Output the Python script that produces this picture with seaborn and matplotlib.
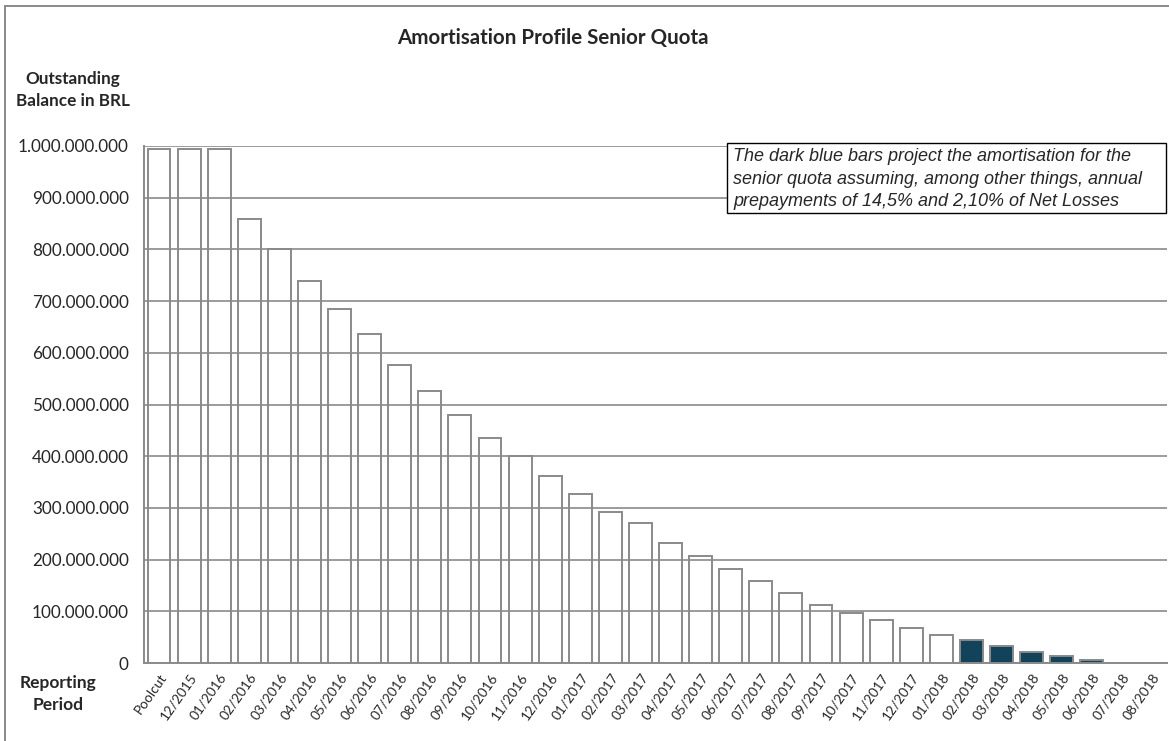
"""Amortisation profile of the senior quota, recreated with seaborn."""
import matplotlib
matplotlib.use("Agg")
import matplotlib.pyplot as plt
import pandas as pd
import seaborn as sns
from matplotlib.patches import Rectangle

PERIODS = [
    "Poolcut", "12/2015",
    "01/2016", "02/2016", "03/2016", "04/2016", "05/2016", "06/2016",
    "07/2016", "08/2016", "09/2016", "10/2016", "11/2016", "12/2016",
    "01/2017", "02/2017", "03/2017", "04/2017", "05/2017", "06/2017",
    "07/2017", "08/2017", "09/2017", "10/2017", "11/2017", "12/2017",
    "01/2018", "02/2018", "03/2018", "04/2018", "05/2018", "06/2018",
    "07/2018", "08/2018",
]

# outstanding balance in BRL
BALANCE = [
    994_000_000, 994_000_000,
    994_000_000, 858_000_000, 801_000_000, 739_000_000, 685_000_000, 636_000_000,
    577_000_000, 527_000_000, 480_000_000, 436_000_000, 401_000_000, 362_000_000,
    326_000_000, 293_000_000, 271_000_000, 232_000_000, 207_000_000, 181_000_000,
    158_000_000, 135_000_000, 113_000_000, 97_000_000, 84_000_000, 68_000_000,
    55_000_000, 44_000_000, 32_000_000, 22_000_000, 13_000_000, 5_000_000,
    0, 0,
]

# periods from 02/2018 onwards are projections (dark blue bars)
STATUS = ["actual"] * 27 + ["projected"] * 7

Y_TICKS = list(range(0, 1_000_000_001, 100_000_000))

GREY = "#8a8a8a"
DARK_BLUE = "#064767"
BASE_FONT = "Lato"

df = pd.DataFrame({"period": PERIODS, "balance": BALANCE, "status": STATUS})

sns.set_theme(style="white")
plt.rcParams["font.family"] = [BASE_FONT, "DejaVu Sans"]

W, H = 1169, 741
fig = plt.figure(figsize=(W / 100, H / 100), dpi=100)
ax = fig.add_axes([144 / W, 1 - 663 / H, (1167 - 144) / W, (663 - 146) / H])

sns.barplot(
    data=df, x="period", y="balance", hue="status",
    palette={"actual": "white", "projected": DARK_BLUE},
    dodge=False, width=0.76, edgecolor=GREY, linewidth=1.4,
    legend=False, ax=ax,
)

ax.set_ylim(0, 1_000_000_000)
ax.set_xlim(-0.5, len(PERIODS) - 0.5)
ax.set_yticks(Y_TICKS)
ax.set_yticklabels([f"{v:,.0f}".replace(",", ".") for v in Y_TICKS], fontsize=12.3)

# excel puts the x ticks between the categories
ax.set_xticks([i - 0.5 for i in range(len(PERIODS) + 1)], minor=False)
ax.set_xticklabels([])
ax.set_xticks(range(len(PERIODS)), minor=True)
ax.set_xticklabels(PERIODS, minor=True, rotation=55, ha="right",
                   rotation_mode="anchor", fontsize=9.8)
ax.tick_params(axis="x", which="minor", length=0, pad=6)
ax.tick_params(axis="x", which="major", length=5, color=GREY, width=1.2)
ax.tick_params(axis="y", length=6, color=GREY, width=1.2, pad=5)

ax.grid(axis="y", color=GREY, linewidth=1.2)
ax.set_axisbelow(False)
for side in ("top", "right"):
    ax.spines[side].set_visible(False)
for side in ("left", "bottom"):
    ax.spines[side].set_color(GREY)
    ax.spines[side].set_linewidth(1.4)
ax.set_xlabel("")
ax.set_ylabel("")

fig.text(553 / W, 1 - 38 / H, "Amortisation Profile Senior Quota",
         ha="center", va="center", fontsize=14.8, fontweight="bold")
fig.text(73 / W, 1 - 90 / H, "Outstanding\nBalance in BRL",
         ha="center", va="center", fontsize=12.3, fontweight="bold", linespacing=1.5)
fig.text(58 / W, 1 - 694 / H, "Reporting\nPeriod",
         ha="center", va="center", fontsize=12.5, fontweight="bold", linespacing=1.5)

# note box
fig.patches.append(Rectangle((727 / W, 1 - 213 / H), (1166 - 727) / W, (213 - 143) / H,
                             transform=fig.transFigure, facecolor="white",
                             edgecolor="black", linewidth=1.0, zorder=5))
fig.text(733 / W, 1 - 179 / H,
         "The dark blue bars project the amortisation for the\n"
         "senior quota assuming, among other things, annual\n"
         "prepayments of 14,5% and 2,10% of Net Losses",
         ha="left", va="center", fontsize=13, style="italic",
         family=["Liberation Sans", "DejaVu Sans"], linespacing=1.42, zorder=6)

# chart area border
fig.patches.append(Rectangle((5 / W, -0.01), 1.02, 1 - 6 / H + 0.01,
                             transform=fig.transFigure, facecolor="none",
                             edgecolor=GREY, linewidth=1.4))

fig.savefig("out.png", dpi=100)
